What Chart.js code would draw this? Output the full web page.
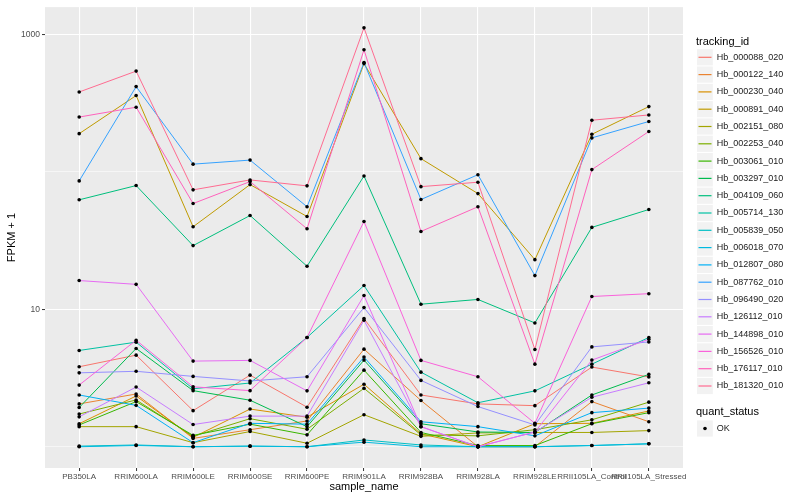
<!DOCTYPE html>
<html>
<head>
<meta charset="utf-8">
<script src="https://cdn.jsdelivr.net/npm/chart.js@4.4.1/dist/chart.umd.min.js"></script>
<style>
  body { margin: 0; background: #fff; }
  canvas { display: block; }
</style>
</head>
<body>
<canvas id="myChart" width="800" height="500"></canvas>
<script>
const samples = ['PB350LA', 'RRIM600LA', 'RRIM600LE', 'RRIM600SE', 'RRIM600PE', 'RRIM901LA',
  'RRIM928BA', 'RRIM928LA', 'RRIM928LE', 'RRII105LA_Control', 'RRII105LA_Stressed'];

const trackingIds = ['Hb_000088_020', 'Hb_000122_140', 'Hb_000230_040', 'Hb_000891_040', 'Hb_002151_080',
  'Hb_002253_040', 'Hb_003061_010', 'Hb_003297_010', 'Hb_004109_060', 'Hb_005714_130',
  'Hb_005839_050', 'Hb_006018_070', 'Hb_012807_080', 'Hb_087762_010', 'Hb_096490_020',
  'Hb_126112_010', 'Hb_144898_010', 'Hb_156526_010', 'Hb_176117_010', 'Hb_181320_010'];

// ggplot hue palette, 20 levels
const lineColors = ['#F8766D', '#EA8331', '#D89000', '#C09B00', '#A3A500', '#7CAE00', '#39B600', '#00BB4E',
  '#00BF7D', '#00C1A3', '#00BFC4', '#00BAE0', '#00B0F6', '#35A2FF', '#9590FF', '#C77CFF',
  '#E76BF3', '#FA62DB', '#FF62BC', '#FF6C91'];

// FPKM + 1, one value per sample
const hb000088 = [3.82, 4.64, 1.83, 3.32, 1.94, 8.56, 2.38, 2.05, 1.99, 3.80, 3.22];
const hb000122 = [2.05, 2.42, 1.15, 1.33, 1.54, 5.13, 2.17, 1.00, 1.00, 2.13, 1.52];
const hb000230 = [1.47, 2.34, 1.17, 1.88, 1.64, 2.85, 1.24, 1.00, 1.47, 1.48, 1.82];
const hb000891 = [190, 360, 39.9, 80.9, 47.4, 615, 125, 69.6, 23.0, 188, 299];
const hb002151 = [1.40, 1.40, 1.07, 1.29, 1.06, 1.71, 1.19, 1.26, 1.27, 1.27, 1.31];
const hb002253 = [1.73, 2.19, 1.19, 1.60, 1.34, 2.66, 1.22, 1.20, 1.33, 1.57, 2.11];
const hb003061 = [1.44, 2.13, 1.21, 1.46, 1.22, 3.61, 1.27, 1.02, 1.02, 1.47, 1.77];
const hb003297 = [1.93, 5.19, 2.56, 2.18, 1.40, 4.27, 1.47, 1.28, 1.27, 2.38, 3.36];
const hb004109 = [62.7, 79.6, 29.1, 48.2, 20.6, 93.5, 10.9, 11.8, 7.96, 39.5, 53.3];
const hb005714 = [5.02, 5.77, 2.64, 2.91, 6.24, 14.9, 3.49, 2.09, 2.55, 3.99, 6.24];
const hb005839 = [1.01, 1.03, 1.00, 1.01, 1.00, 1.12, 1.03, 1.00, 1.00, 1.02, 1.05];
const hb006018 = [1.00, 1.02, 1.00, 1.01, 1.00, 1.08, 1.00, 1.00, 1.00, 1.02, 1.05];
const hb012807 = [2.38, 2.00, 1.07, 1.48, 1.46, 4.49, 1.52, 1.40, 1.20, 1.77, 1.91];
const hb087762 = [86.1, 418, 114, 122, 55.8, 625, 63.0, 95.5, 17.6, 177, 233];
const hb096490 = [3.45, 3.54, 3.25, 3.01, 3.23, 10.3, 3.04, 1.96, 1.44, 5.33, 5.79];
const hb126112 = [1.65, 2.72, 1.45, 1.67, 1.67, 8.32, 1.40, 1.00, 1.28, 2.29, 2.92];
const hb144898 = [16.2, 15.2, 4.20, 4.25, 2.55, 12.6, 1.40, 1.00, 1.28, 4.27, 6.06];
const hb156526 = [2.81, 5.96, 2.73, 2.56, 6.24, 43.6, 4.25, 3.23, 1.48, 12.4, 13.0];
const hb176117 = [251, 296, 58.9, 85.1, 38.6, 775, 36.9, 55.8, 3.99, 104, 197];
const hb181320 = [382, 542, 74.1, 87.5, 79.2, 1119, 78.2, 84.2, 5.10, 238, 260];

const seriesValues = [hb000088, hb000122, hb000230, hb000891, hb002151, hb002253, hb003061, hb003297,
  hb004109, hb005714, hb005839, hb006018, hb012807, hb087762, hb096490, hb126112,
  hb144898, hb156526, hb176117, hb181320];

const yBreaks = [10, 1000];
const yMinorBreaks = [1, 100];

const FONT = '"Liberation Sans", Arial, sans-serif';

const datasets = [];
trackingIds.forEach((id, i) => {
  datasets.push({
    label: id,
    data: seriesValues[i].map((v, j) => ({x: j, y: v})),
    borderColor: lineColors[i],
    borderWidth: 1,
    pointRadius: 0,
    tension: 0,
    order: trackingIds.length - i
  });
});
// points go on top of every line (geom_point after geom_line)
trackingIds.forEach((id, i) => {
  datasets.push({
    label: id + ' OK',
    data: seriesValues[i].map((v, j) => ({x: j, y: v})),
    showLine: false,
    pointRadius: 1.8,
    pointBackgroundColor: '#000',
    pointBorderWidth: 0,
    order: 0
  });
});

const panel = {
  id: 'panel',
  beforeDraw: (chart) => {
    const {ctx, chartArea: a} = chart;
    ctx.save();
    ctx.fillStyle = '#fff';
    ctx.fillRect(0, 0, chart.width, chart.height);
    ctx.fillStyle = '#EBEBEB';
    ctx.fillRect(a.left, a.top, a.right - a.left, a.bottom - a.top);
    ctx.restore();
  },
  afterDraw: (chart) => {
    const {ctx, chartArea: a} = chart;
    ctx.save();
    ctx.fillStyle = '#000';
    ctx.textBaseline = 'middle';
    ctx.textAlign = 'center';
    ctx.font = '11px ' + FONT;
    ctx.fillText('sample_name', (a.left + a.right) / 2, 487);
    ctx.save();
    ctx.translate(12, (a.top + a.bottom) / 2);
    ctx.rotate(-Math.PI / 2);
    ctx.fillText('FPKM + 1', 0, 0);
    ctx.restore();

    // legend
    ctx.textAlign = 'left';
    ctx.fillText('tracking_id', 696, 41.5);
    ctx.font = '9px ' + FONT;
    trackingIds.forEach((id, i) => {
      const yc = 57.3 + 17.3 * i;
      ctx.fillStyle = '#F2F2F2';
      ctx.fillRect(697, yc - 8.1, 15.8, 16.2);
      ctx.strokeStyle = lineColors[i];
      ctx.lineWidth = 1.2;
      ctx.beginPath();
      ctx.moveTo(698.5, yc);
      ctx.lineTo(711.5, yc);
      ctx.stroke();
      ctx.fillStyle = '#1A1A1A';
      ctx.fillText(id, 716.7, yc);
    });
    ctx.font = '11px ' + FONT;
    ctx.fillStyle = '#000';
    ctx.fillText('quant_status', 696, 411.7);
    ctx.fillStyle = '#F2F2F2';
    ctx.fillRect(697, 428.5 - 8.1, 15.8, 16.2);
    ctx.fillStyle = '#000';
    ctx.beginPath();
    ctx.arc(705, 428.5, 1.8, 0, Math.PI * 2);
    ctx.fill();
    ctx.font = '9px ' + FONT;
    ctx.fillStyle = '#1A1A1A';
    ctx.fillText('OK', 716.7, 428.5);
    ctx.restore();
  }
};

const config = {
  type: 'line',
  data: {datasets: datasets},
  options: {
    responsive: false,
    animation: false,
    layout: {padding: {top: 5, right: 117, left: 0, bottom: 0}},
    plugins: {legend: {display: false}, tooltip: {enabled: false}},
    scales: {
      x: {
        type: 'linear',
        min: -0.6,
        max: samples.length - 0.4,
        afterBuildTicks: (s) => { s.ticks = samples.map((_, i) => ({value: i})); },
        afterFit: (s) => { s.height = 32; },
        ticks: {
          callback: (v) => samples[v],
          autoSkip: false, maxRotation: 0, minRotation: 0,
          color: '#4D4D4D', font: {family: FONT, size: 8}, padding: 1
        },
        grid: {color: '#fff', lineWidth: 1.1, tickLength: 3, tickColor: '#333', tickWidth: 1},
        border: {display: false}
      },
      y: {
        type: 'logarithmic',
        min: 0.705,
        max: 1585,
        afterBuildTicks: (s) => {
          s.ticks = yMinorBreaks.concat(yBreaks).sort((a, b) => a - b).map(v => ({value: v}));
        },
        afterFit: (s) => { s.width = 45; },
        ticks: {
          callback: (v) => yBreaks.includes(v) ? String(v) : '',
          autoSkip: false,
          color: '#4D4D4D', font: {family: FONT, size: 8.5}, padding: 2
        },
        grid: {
          color: '#fff',
          lineWidth: (c) => (c.tick && yBreaks.includes(c.tick.value)) ? 1.1 : 0.55,
          tickLength: 3,
          tickColor: (c) => (c.tick && yBreaks.includes(c.tick.value)) ? '#333' : 'rgba(0,0,0,0)',
          tickWidth: 1
        },
        border: {display: false}
      }
    }
  },
  plugins: [panel]
};

const myChart = new Chart(document.getElementById('myChart'), config);
</script>
</body>
</html>
